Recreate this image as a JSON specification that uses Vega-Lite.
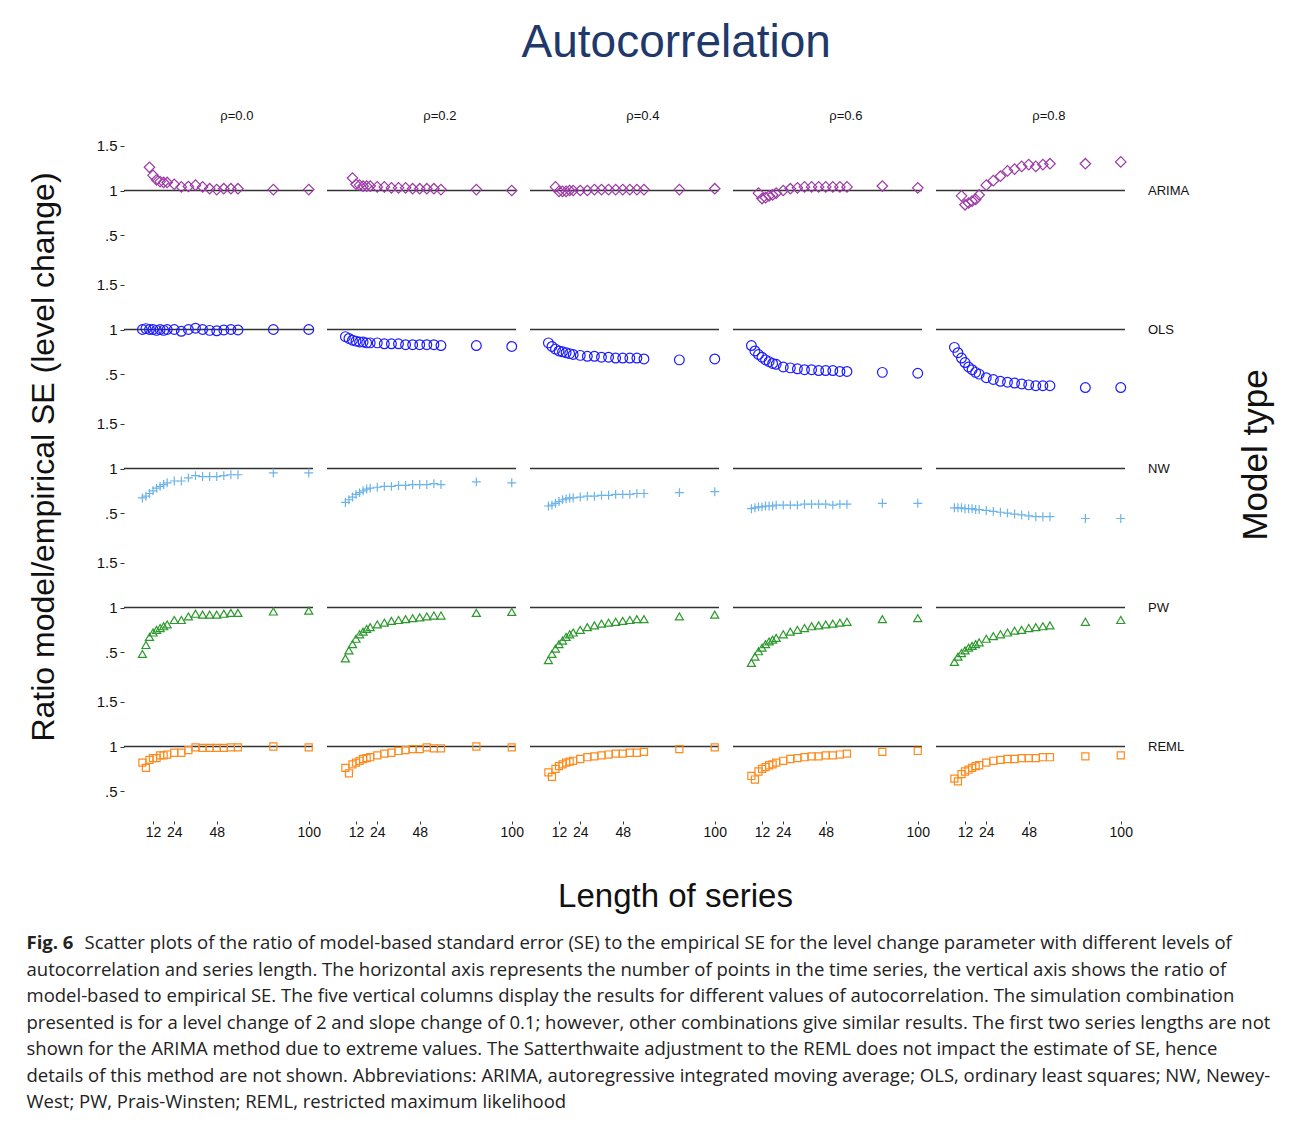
{
  "$schema": "https://vega.github.io/schema/vega-lite/v6.json",
  "background": "white",
  "padding": {"left": 26, "top": 20, "right": 5, "bottom": 5},
  "title": {"text": "Autocorrelation", "font": "Liberation Sans", "fontSize": 46, "fontWeight": "normal", "color": "#20386a", "anchor": "middle", "offset": 43, "dx": 20},
  "config": {"view": {"stroke": null}, "font": "Liberation Sans"},
  "spacing": 42,
  "vconcat": [
    {
      "spacing": 36,
      "hconcat": [
        {
          "data": {"values": [{"t": "Ratio model/empirical SE (level change)"}]},
          "width": 1,
          "height": 658,
          "mark": {"type": "text", "angle": 270, "align": "center", "baseline": "middle", "font": "Liberation Sans", "fontSize": 32, "color": "#111"},
          "encoding": {"text": {"field": "t"}}
        },
        {
          "data": {"values": [
            {"m":"ARIMA","r":"ρ=0.0","n":10,"v":1.26},{"m":"ARIMA","r":"ρ=0.0","n":12,"v":1.17},{"m":"ARIMA","r":"ρ=0.0","n":14,"v":1.12},{"m":"ARIMA","r":"ρ=0.0","n":16,"v":1.10},{"m":"ARIMA","r":"ρ=0.0","n":18,"v":1.09},{"m":"ARIMA","r":"ρ=0.0","n":20,"v":1.09},{"m":"ARIMA","r":"ρ=0.0","n":24,"v":1.07},{"m":"ARIMA","r":"ρ=0.0","n":28,"v":1.04},{"m":"ARIMA","r":"ρ=0.0","n":32,"v":1.045},{"m":"ARIMA","r":"ρ=0.0","n":36,"v":1.06},{"m":"ARIMA","r":"ρ=0.0","n":40,"v":1.04},{"m":"ARIMA","r":"ρ=0.0","n":44,"v":1.02},{"m":"ARIMA","r":"ρ=0.0","n":48,"v":1.01},{"m":"ARIMA","r":"ρ=0.0","n":52,"v":1.02},{"m":"ARIMA","r":"ρ=0.0","n":56,"v":1.02},{"m":"ARIMA","r":"ρ=0.0","n":60,"v":1.02},{"m":"ARIMA","r":"ρ=0.0","n":80,"v":1.01},{"m":"ARIMA","r":"ρ=0.0","n":100,"v":1.01},
            {"m":"ARIMA","r":"ρ=0.2","n":10,"v":1.14},{"m":"ARIMA","r":"ρ=0.2","n":12,"v":1.07},{"m":"ARIMA","r":"ρ=0.2","n":14,"v":1.06},{"m":"ARIMA","r":"ρ=0.2","n":16,"v":1.05},{"m":"ARIMA","r":"ρ=0.2","n":18,"v":1.05},{"m":"ARIMA","r":"ρ=0.2","n":20,"v":1.05},{"m":"ARIMA","r":"ρ=0.2","n":24,"v":1.04},{"m":"ARIMA","r":"ρ=0.2","n":28,"v":1.04},{"m":"ARIMA","r":"ρ=0.2","n":32,"v":1.03},{"m":"ARIMA","r":"ρ=0.2","n":36,"v":1.03},{"m":"ARIMA","r":"ρ=0.2","n":40,"v":1.03},{"m":"ARIMA","r":"ρ=0.2","n":44,"v":1.02},{"m":"ARIMA","r":"ρ=0.2","n":48,"v":1.02},{"m":"ARIMA","r":"ρ=0.2","n":52,"v":1.02},{"m":"ARIMA","r":"ρ=0.2","n":56,"v":1.02},{"m":"ARIMA","r":"ρ=0.2","n":60,"v":1.01},{"m":"ARIMA","r":"ρ=0.2","n":80,"v":1.01},{"m":"ARIMA","r":"ρ=0.2","n":100,"v":1.0},
            {"m":"ARIMA","r":"ρ=0.4","n":10,"v":1.04},{"m":"ARIMA","r":"ρ=0.4","n":12,"v":0.99},{"m":"ARIMA","r":"ρ=0.4","n":14,"v":0.99},{"m":"ARIMA","r":"ρ=0.4","n":16,"v":0.99},{"m":"ARIMA","r":"ρ=0.4","n":18,"v":1.0},{"m":"ARIMA","r":"ρ=0.4","n":20,"v":1.0},{"m":"ARIMA","r":"ρ=0.4","n":24,"v":1.0},{"m":"ARIMA","r":"ρ=0.4","n":28,"v":1.0},{"m":"ARIMA","r":"ρ=0.4","n":32,"v":1.01},{"m":"ARIMA","r":"ρ=0.4","n":36,"v":1.01},{"m":"ARIMA","r":"ρ=0.4","n":40,"v":1.01},{"m":"ARIMA","r":"ρ=0.4","n":44,"v":1.01},{"m":"ARIMA","r":"ρ=0.4","n":48,"v":1.01},{"m":"ARIMA","r":"ρ=0.4","n":52,"v":1.01},{"m":"ARIMA","r":"ρ=0.4","n":56,"v":1.01},{"m":"ARIMA","r":"ρ=0.4","n":60,"v":1.01},{"m":"ARIMA","r":"ρ=0.4","n":80,"v":1.01},{"m":"ARIMA","r":"ρ=0.4","n":100,"v":1.02},
            {"m":"ARIMA","r":"ρ=0.6","n":10,"v":0.97},{"m":"ARIMA","r":"ρ=0.6","n":12,"v":0.91},{"m":"ARIMA","r":"ρ=0.6","n":14,"v":0.92},{"m":"ARIMA","r":"ρ=0.6","n":16,"v":0.94},{"m":"ARIMA","r":"ρ=0.6","n":18,"v":0.95},{"m":"ARIMA","r":"ρ=0.6","n":20,"v":0.97},{"m":"ARIMA","r":"ρ=0.6","n":24,"v":1.0},{"m":"ARIMA","r":"ρ=0.6","n":28,"v":1.02},{"m":"ARIMA","r":"ρ=0.6","n":32,"v":1.03},{"m":"ARIMA","r":"ρ=0.6","n":36,"v":1.04},{"m":"ARIMA","r":"ρ=0.6","n":40,"v":1.04},{"m":"ARIMA","r":"ρ=0.6","n":44,"v":1.04},{"m":"ARIMA","r":"ρ=0.6","n":48,"v":1.04},{"m":"ARIMA","r":"ρ=0.6","n":52,"v":1.04},{"m":"ARIMA","r":"ρ=0.6","n":56,"v":1.04},{"m":"ARIMA","r":"ρ=0.6","n":60,"v":1.04},{"m":"ARIMA","r":"ρ=0.6","n":80,"v":1.05},{"m":"ARIMA","r":"ρ=0.6","n":100,"v":1.03},
            {"m":"ARIMA","r":"ρ=0.8","n":10,"v":0.94},{"m":"ARIMA","r":"ρ=0.8","n":12,"v":0.84},{"m":"ARIMA","r":"ρ=0.8","n":14,"v":0.86},{"m":"ARIMA","r":"ρ=0.8","n":16,"v":0.88},{"m":"ARIMA","r":"ρ=0.8","n":18,"v":0.90},{"m":"ARIMA","r":"ρ=0.8","n":20,"v":0.95},{"m":"ARIMA","r":"ρ=0.8","n":24,"v":1.06},{"m":"ARIMA","r":"ρ=0.8","n":28,"v":1.11},{"m":"ARIMA","r":"ρ=0.8","n":32,"v":1.16},{"m":"ARIMA","r":"ρ=0.8","n":36,"v":1.22},{"m":"ARIMA","r":"ρ=0.8","n":40,"v":1.24},{"m":"ARIMA","r":"ρ=0.8","n":44,"v":1.27},{"m":"ARIMA","r":"ρ=0.8","n":48,"v":1.29},{"m":"ARIMA","r":"ρ=0.8","n":52,"v":1.27},{"m":"ARIMA","r":"ρ=0.8","n":56,"v":1.29},{"m":"ARIMA","r":"ρ=0.8","n":60,"v":1.30},{"m":"ARIMA","r":"ρ=0.8","n":80,"v":1.30},{"m":"ARIMA","r":"ρ=0.8","n":100,"v":1.32},
            {"m":"OLS","r":"ρ=0.0","n":6,"v":1.0},{"m":"OLS","r":"ρ=0.0","n":8,"v":1.01},{"m":"OLS","r":"ρ=0.0","n":10,"v":1.0},{"m":"OLS","r":"ρ=0.0","n":12,"v":1.0},{"m":"OLS","r":"ρ=0.0","n":14,"v":0.99},{"m":"OLS","r":"ρ=0.0","n":16,"v":1.0},{"m":"OLS","r":"ρ=0.0","n":18,"v":0.99},{"m":"OLS","r":"ρ=0.0","n":20,"v":1.0},{"m":"OLS","r":"ρ=0.0","n":24,"v":1.0},{"m":"OLS","r":"ρ=0.0","n":28,"v":0.98},{"m":"OLS","r":"ρ=0.0","n":32,"v":1.0},{"m":"OLS","r":"ρ=0.0","n":36,"v":1.015},{"m":"OLS","r":"ρ=0.0","n":40,"v":1.0},{"m":"OLS","r":"ρ=0.0","n":44,"v":0.99},{"m":"OLS","r":"ρ=0.0","n":48,"v":0.985},{"m":"OLS","r":"ρ=0.0","n":52,"v":0.995},{"m":"OLS","r":"ρ=0.0","n":56,"v":1.0},{"m":"OLS","r":"ρ=0.0","n":60,"v":0.995},{"m":"OLS","r":"ρ=0.0","n":80,"v":1.0},{"m":"OLS","r":"ρ=0.0","n":100,"v":1.0},
            {"m":"OLS","r":"ρ=0.2","n":6,"v":0.92},{"m":"OLS","r":"ρ=0.2","n":8,"v":0.90},{"m":"OLS","r":"ρ=0.2","n":10,"v":0.88},{"m":"OLS","r":"ρ=0.2","n":12,"v":0.87},{"m":"OLS","r":"ρ=0.2","n":14,"v":0.86},{"m":"OLS","r":"ρ=0.2","n":16,"v":0.86},{"m":"OLS","r":"ρ=0.2","n":18,"v":0.85},{"m":"OLS","r":"ρ=0.2","n":20,"v":0.85},{"m":"OLS","r":"ρ=0.2","n":24,"v":0.85},{"m":"OLS","r":"ρ=0.2","n":28,"v":0.84},{"m":"OLS","r":"ρ=0.2","n":32,"v":0.84},{"m":"OLS","r":"ρ=0.2","n":36,"v":0.84},{"m":"OLS","r":"ρ=0.2","n":40,"v":0.83},{"m":"OLS","r":"ρ=0.2","n":44,"v":0.83},{"m":"OLS","r":"ρ=0.2","n":48,"v":0.83},{"m":"OLS","r":"ρ=0.2","n":52,"v":0.83},{"m":"OLS","r":"ρ=0.2","n":56,"v":0.83},{"m":"OLS","r":"ρ=0.2","n":60,"v":0.82},{"m":"OLS","r":"ρ=0.2","n":80,"v":0.82},{"m":"OLS","r":"ρ=0.2","n":100,"v":0.81},
            {"m":"OLS","r":"ρ=0.4","n":6,"v":0.85},{"m":"OLS","r":"ρ=0.4","n":8,"v":0.81},{"m":"OLS","r":"ρ=0.4","n":10,"v":0.78},{"m":"OLS","r":"ρ=0.4","n":12,"v":0.76},{"m":"OLS","r":"ρ=0.4","n":14,"v":0.75},{"m":"OLS","r":"ρ=0.4","n":16,"v":0.74},{"m":"OLS","r":"ρ=0.4","n":18,"v":0.73},{"m":"OLS","r":"ρ=0.4","n":20,"v":0.72},{"m":"OLS","r":"ρ=0.4","n":24,"v":0.71},{"m":"OLS","r":"ρ=0.4","n":28,"v":0.70},{"m":"OLS","r":"ρ=0.4","n":32,"v":0.70},{"m":"OLS","r":"ρ=0.4","n":36,"v":0.69},{"m":"OLS","r":"ρ=0.4","n":40,"v":0.69},{"m":"OLS","r":"ρ=0.4","n":44,"v":0.68},{"m":"OLS","r":"ρ=0.4","n":48,"v":0.68},{"m":"OLS","r":"ρ=0.4","n":52,"v":0.68},{"m":"OLS","r":"ρ=0.4","n":56,"v":0.68},{"m":"OLS","r":"ρ=0.4","n":60,"v":0.67},{"m":"OLS","r":"ρ=0.4","n":80,"v":0.66},{"m":"OLS","r":"ρ=0.4","n":100,"v":0.67},
            {"m":"OLS","r":"ρ=0.6","n":6,"v":0.82},{"m":"OLS","r":"ρ=0.6","n":8,"v":0.76},{"m":"OLS","r":"ρ=0.6","n":10,"v":0.72},{"m":"OLS","r":"ρ=0.6","n":12,"v":0.69},{"m":"OLS","r":"ρ=0.6","n":14,"v":0.66},{"m":"OLS","r":"ρ=0.6","n":16,"v":0.64},{"m":"OLS","r":"ρ=0.6","n":18,"v":0.62},{"m":"OLS","r":"ρ=0.6","n":20,"v":0.61},{"m":"OLS","r":"ρ=0.6","n":24,"v":0.58},{"m":"OLS","r":"ρ=0.6","n":28,"v":0.57},{"m":"OLS","r":"ρ=0.6","n":32,"v":0.56},{"m":"OLS","r":"ρ=0.6","n":36,"v":0.55},{"m":"OLS","r":"ρ=0.6","n":40,"v":0.55},{"m":"OLS","r":"ρ=0.6","n":44,"v":0.54},{"m":"OLS","r":"ρ=0.6","n":48,"v":0.54},{"m":"OLS","r":"ρ=0.6","n":52,"v":0.54},{"m":"OLS","r":"ρ=0.6","n":56,"v":0.53},{"m":"OLS","r":"ρ=0.6","n":60,"v":0.53},{"m":"OLS","r":"ρ=0.6","n":80,"v":0.52},{"m":"OLS","r":"ρ=0.6","n":100,"v":0.51},
            {"m":"OLS","r":"ρ=0.8","n":6,"v":0.80},{"m":"OLS","r":"ρ=0.8","n":8,"v":0.74},{"m":"OLS","r":"ρ=0.8","n":10,"v":0.68},{"m":"OLS","r":"ρ=0.8","n":12,"v":0.63},{"m":"OLS","r":"ρ=0.8","n":14,"v":0.58},{"m":"OLS","r":"ρ=0.8","n":16,"v":0.55},{"m":"OLS","r":"ρ=0.8","n":18,"v":0.52},{"m":"OLS","r":"ρ=0.8","n":20,"v":0.50},{"m":"OLS","r":"ρ=0.8","n":24,"v":0.46},{"m":"OLS","r":"ρ=0.8","n":28,"v":0.44},{"m":"OLS","r":"ρ=0.8","n":32,"v":0.42},{"m":"OLS","r":"ρ=0.8","n":36,"v":0.41},{"m":"OLS","r":"ρ=0.8","n":40,"v":0.40},{"m":"OLS","r":"ρ=0.8","n":44,"v":0.39},{"m":"OLS","r":"ρ=0.8","n":48,"v":0.38},{"m":"OLS","r":"ρ=0.8","n":52,"v":0.37},{"m":"OLS","r":"ρ=0.8","n":56,"v":0.37},{"m":"OLS","r":"ρ=0.8","n":60,"v":0.37},{"m":"OLS","r":"ρ=0.8","n":80,"v":0.35},{"m":"OLS","r":"ρ=0.8","n":100,"v":0.35},
            {"m":"NW","r":"ρ=0.0","n":6,"v":0.67},{"m":"NW","r":"ρ=0.0","n":8,"v":0.69},{"m":"NW","r":"ρ=0.0","n":10,"v":0.72},{"m":"NW","r":"ρ=0.0","n":12,"v":0.75},{"m":"NW","r":"ρ=0.0","n":14,"v":0.78},{"m":"NW","r":"ρ=0.0","n":16,"v":0.80},{"m":"NW","r":"ρ=0.0","n":18,"v":0.82},{"m":"NW","r":"ρ=0.0","n":20,"v":0.84},{"m":"NW","r":"ρ=0.0","n":24,"v":0.86},{"m":"NW","r":"ρ=0.0","n":28,"v":0.86},{"m":"NW","r":"ρ=0.0","n":32,"v":0.895},{"m":"NW","r":"ρ=0.0","n":36,"v":0.92},{"m":"NW","r":"ρ=0.0","n":40,"v":0.91},{"m":"NW","r":"ρ=0.0","n":44,"v":0.91},{"m":"NW","r":"ρ=0.0","n":48,"v":0.91},{"m":"NW","r":"ρ=0.0","n":52,"v":0.92},{"m":"NW","r":"ρ=0.0","n":56,"v":0.93},{"m":"NW","r":"ρ=0.0","n":60,"v":0.93},{"m":"NW","r":"ρ=0.0","n":80,"v":0.95},{"m":"NW","r":"ρ=0.0","n":100,"v":0.95},
            {"m":"NW","r":"ρ=0.2","n":6,"v":0.62},{"m":"NW","r":"ρ=0.2","n":8,"v":0.65},{"m":"NW","r":"ρ=0.2","n":10,"v":0.68},{"m":"NW","r":"ρ=0.2","n":12,"v":0.71},{"m":"NW","r":"ρ=0.2","n":14,"v":0.73},{"m":"NW","r":"ρ=0.2","n":16,"v":0.75},{"m":"NW","r":"ρ=0.2","n":18,"v":0.77},{"m":"NW","r":"ρ=0.2","n":20,"v":0.78},{"m":"NW","r":"ρ=0.2","n":24,"v":0.79},{"m":"NW","r":"ρ=0.2","n":28,"v":0.80},{"m":"NW","r":"ρ=0.2","n":32,"v":0.80},{"m":"NW","r":"ρ=0.2","n":36,"v":0.81},{"m":"NW","r":"ρ=0.2","n":40,"v":0.81},{"m":"NW","r":"ρ=0.2","n":44,"v":0.82},{"m":"NW","r":"ρ=0.2","n":48,"v":0.82},{"m":"NW","r":"ρ=0.2","n":52,"v":0.82},{"m":"NW","r":"ρ=0.2","n":56,"v":0.83},{"m":"NW","r":"ρ=0.2","n":60,"v":0.82},{"m":"NW","r":"ρ=0.2","n":80,"v":0.85},{"m":"NW","r":"ρ=0.2","n":100,"v":0.84},
            {"m":"NW","r":"ρ=0.4","n":6,"v":0.58},{"m":"NW","r":"ρ=0.4","n":8,"v":0.59},{"m":"NW","r":"ρ=0.4","n":10,"v":0.61},{"m":"NW","r":"ρ=0.4","n":12,"v":0.63},{"m":"NW","r":"ρ=0.4","n":14,"v":0.65},{"m":"NW","r":"ρ=0.4","n":16,"v":0.66},{"m":"NW","r":"ρ=0.4","n":18,"v":0.67},{"m":"NW","r":"ρ=0.4","n":20,"v":0.67},{"m":"NW","r":"ρ=0.4","n":24,"v":0.68},{"m":"NW","r":"ρ=0.4","n":28,"v":0.69},{"m":"NW","r":"ρ=0.4","n":32,"v":0.69},{"m":"NW","r":"ρ=0.4","n":36,"v":0.70},{"m":"NW","r":"ρ=0.4","n":40,"v":0.70},{"m":"NW","r":"ρ=0.4","n":44,"v":0.71},{"m":"NW","r":"ρ=0.4","n":48,"v":0.71},{"m":"NW","r":"ρ=0.4","n":52,"v":0.71},{"m":"NW","r":"ρ=0.4","n":56,"v":0.72},{"m":"NW","r":"ρ=0.4","n":60,"v":0.72},{"m":"NW","r":"ρ=0.4","n":80,"v":0.73},{"m":"NW","r":"ρ=0.4","n":100,"v":0.74},
            {"m":"NW","r":"ρ=0.6","n":6,"v":0.55},{"m":"NW","r":"ρ=0.6","n":8,"v":0.56},{"m":"NW","r":"ρ=0.6","n":10,"v":0.57},{"m":"NW","r":"ρ=0.6","n":12,"v":0.57},{"m":"NW","r":"ρ=0.6","n":14,"v":0.58},{"m":"NW","r":"ρ=0.6","n":16,"v":0.58},{"m":"NW","r":"ρ=0.6","n":18,"v":0.58},{"m":"NW","r":"ρ=0.6","n":20,"v":0.59},{"m":"NW","r":"ρ=0.6","n":24,"v":0.59},{"m":"NW","r":"ρ=0.6","n":28,"v":0.59},{"m":"NW","r":"ρ=0.6","n":32,"v":0.59},{"m":"NW","r":"ρ=0.6","n":36,"v":0.60},{"m":"NW","r":"ρ=0.6","n":40,"v":0.60},{"m":"NW","r":"ρ=0.6","n":44,"v":0.60},{"m":"NW","r":"ρ=0.6","n":48,"v":0.60},{"m":"NW","r":"ρ=0.6","n":52,"v":0.59},{"m":"NW","r":"ρ=0.6","n":56,"v":0.60},{"m":"NW","r":"ρ=0.6","n":60,"v":0.60},{"m":"NW","r":"ρ=0.6","n":80,"v":0.61},{"m":"NW","r":"ρ=0.6","n":100,"v":0.61},
            {"m":"NW","r":"ρ=0.8","n":6,"v":0.56},{"m":"NW","r":"ρ=0.8","n":8,"v":0.56},{"m":"NW","r":"ρ=0.8","n":10,"v":0.56},{"m":"NW","r":"ρ=0.8","n":12,"v":0.55},{"m":"NW","r":"ρ=0.8","n":14,"v":0.55},{"m":"NW","r":"ρ=0.8","n":16,"v":0.55},{"m":"NW","r":"ρ=0.8","n":18,"v":0.54},{"m":"NW","r":"ρ=0.8","n":20,"v":0.54},{"m":"NW","r":"ρ=0.8","n":24,"v":0.53},{"m":"NW","r":"ρ=0.8","n":28,"v":0.52},{"m":"NW","r":"ρ=0.8","n":32,"v":0.51},{"m":"NW","r":"ρ=0.8","n":36,"v":0.50},{"m":"NW","r":"ρ=0.8","n":40,"v":0.49},{"m":"NW","r":"ρ=0.8","n":44,"v":0.48},{"m":"NW","r":"ρ=0.8","n":48,"v":0.47},{"m":"NW","r":"ρ=0.8","n":52,"v":0.46},{"m":"NW","r":"ρ=0.8","n":56,"v":0.46},{"m":"NW","r":"ρ=0.8","n":60,"v":0.46},{"m":"NW","r":"ρ=0.8","n":80,"v":0.44},{"m":"NW","r":"ρ=0.8","n":100,"v":0.44},
            {"m":"PW","r":"ρ=0.0","n":6,"v":0.48},{"m":"PW","r":"ρ=0.0","n":8,"v":0.58},{"m":"PW","r":"ρ=0.0","n":10,"v":0.67},{"m":"PW","r":"ρ=0.0","n":12,"v":0.72},{"m":"PW","r":"ρ=0.0","n":14,"v":0.75},{"m":"PW","r":"ρ=0.0","n":16,"v":0.77},{"m":"PW","r":"ρ=0.0","n":18,"v":0.79},{"m":"PW","r":"ρ=0.0","n":20,"v":0.81},{"m":"PW","r":"ρ=0.0","n":24,"v":0.86},{"m":"PW","r":"ρ=0.0","n":28,"v":0.86},{"m":"PW","r":"ρ=0.0","n":32,"v":0.90},{"m":"PW","r":"ρ=0.0","n":36,"v":0.93},{"m":"PW","r":"ρ=0.0","n":40,"v":0.92},{"m":"PW","r":"ρ=0.0","n":44,"v":0.92},{"m":"PW","r":"ρ=0.0","n":48,"v":0.92},{"m":"PW","r":"ρ=0.0","n":52,"v":0.93},{"m":"PW","r":"ρ=0.0","n":56,"v":0.94},{"m":"PW","r":"ρ=0.0","n":60,"v":0.94},{"m":"PW","r":"ρ=0.0","n":80,"v":0.955},{"m":"PW","r":"ρ=0.0","n":100,"v":0.965},
            {"m":"PW","r":"ρ=0.2","n":6,"v":0.43},{"m":"PW","r":"ρ=0.2","n":8,"v":0.52},{"m":"PW","r":"ρ=0.2","n":10,"v":0.59},{"m":"PW","r":"ρ=0.2","n":12,"v":0.65},{"m":"PW","r":"ρ=0.2","n":14,"v":0.70},{"m":"PW","r":"ρ=0.2","n":16,"v":0.73},{"m":"PW","r":"ρ=0.2","n":18,"v":0.76},{"m":"PW","r":"ρ=0.2","n":20,"v":0.78},{"m":"PW","r":"ρ=0.2","n":24,"v":0.81},{"m":"PW","r":"ρ=0.2","n":28,"v":0.83},{"m":"PW","r":"ρ=0.2","n":32,"v":0.85},{"m":"PW","r":"ρ=0.2","n":36,"v":0.86},{"m":"PW","r":"ρ=0.2","n":40,"v":0.87},{"m":"PW","r":"ρ=0.2","n":44,"v":0.88},{"m":"PW","r":"ρ=0.2","n":48,"v":0.89},{"m":"PW","r":"ρ=0.2","n":52,"v":0.90},{"m":"PW","r":"ρ=0.2","n":56,"v":0.91},{"m":"PW","r":"ρ=0.2","n":60,"v":0.91},{"m":"PW","r":"ρ=0.2","n":80,"v":0.94},{"m":"PW","r":"ρ=0.2","n":100,"v":0.95},
            {"m":"PW","r":"ρ=0.4","n":6,"v":0.41},{"m":"PW","r":"ρ=0.4","n":8,"v":0.48},{"m":"PW","r":"ρ=0.4","n":10,"v":0.54},{"m":"PW","r":"ρ=0.4","n":12,"v":0.59},{"m":"PW","r":"ρ=0.4","n":14,"v":0.63},{"m":"PW","r":"ρ=0.4","n":16,"v":0.67},{"m":"PW","r":"ρ=0.4","n":18,"v":0.70},{"m":"PW","r":"ρ=0.4","n":20,"v":0.72},{"m":"PW","r":"ρ=0.4","n":24,"v":0.75},{"m":"PW","r":"ρ=0.4","n":28,"v":0.78},{"m":"PW","r":"ρ=0.4","n":32,"v":0.80},{"m":"PW","r":"ρ=0.4","n":36,"v":0.82},{"m":"PW","r":"ρ=0.4","n":40,"v":0.83},{"m":"PW","r":"ρ=0.4","n":44,"v":0.84},{"m":"PW","r":"ρ=0.4","n":48,"v":0.85},{"m":"PW","r":"ρ=0.4","n":52,"v":0.86},{"m":"PW","r":"ρ=0.4","n":56,"v":0.87},{"m":"PW","r":"ρ=0.4","n":60,"v":0.87},{"m":"PW","r":"ρ=0.4","n":80,"v":0.90},{"m":"PW","r":"ρ=0.4","n":100,"v":0.92},
            {"m":"PW","r":"ρ=0.6","n":6,"v":0.38},{"m":"PW","r":"ρ=0.6","n":8,"v":0.45},{"m":"PW","r":"ρ=0.6","n":10,"v":0.51},{"m":"PW","r":"ρ=0.6","n":12,"v":0.55},{"m":"PW","r":"ρ=0.6","n":14,"v":0.59},{"m":"PW","r":"ρ=0.6","n":16,"v":0.62},{"m":"PW","r":"ρ=0.6","n":18,"v":0.64},{"m":"PW","r":"ρ=0.6","n":20,"v":0.66},{"m":"PW","r":"ρ=0.6","n":24,"v":0.70},{"m":"PW","r":"ρ=0.6","n":28,"v":0.73},{"m":"PW","r":"ρ=0.6","n":32,"v":0.75},{"m":"PW","r":"ρ=0.6","n":36,"v":0.77},{"m":"PW","r":"ρ=0.6","n":40,"v":0.79},{"m":"PW","r":"ρ=0.6","n":44,"v":0.80},{"m":"PW","r":"ρ=0.6","n":48,"v":0.81},{"m":"PW","r":"ρ=0.6","n":52,"v":0.82},{"m":"PW","r":"ρ=0.6","n":56,"v":0.83},{"m":"PW","r":"ρ=0.6","n":60,"v":0.84},{"m":"PW","r":"ρ=0.6","n":80,"v":0.87},{"m":"PW","r":"ρ=0.6","n":100,"v":0.88},
            {"m":"PW","r":"ρ=0.8","n":6,"v":0.39},{"m":"PW","r":"ρ=0.8","n":8,"v":0.45},{"m":"PW","r":"ρ=0.8","n":10,"v":0.49},{"m":"PW","r":"ρ=0.8","n":12,"v":0.52},{"m":"PW","r":"ρ=0.8","n":14,"v":0.55},{"m":"PW","r":"ρ=0.8","n":16,"v":0.57},{"m":"PW","r":"ρ=0.8","n":18,"v":0.59},{"m":"PW","r":"ρ=0.8","n":20,"v":0.61},{"m":"PW","r":"ρ=0.8","n":24,"v":0.65},{"m":"PW","r":"ρ=0.8","n":28,"v":0.68},{"m":"PW","r":"ρ=0.8","n":32,"v":0.70},{"m":"PW","r":"ρ=0.8","n":36,"v":0.72},{"m":"PW","r":"ρ=0.8","n":40,"v":0.74},{"m":"PW","r":"ρ=0.8","n":44,"v":0.75},{"m":"PW","r":"ρ=0.8","n":48,"v":0.77},{"m":"PW","r":"ρ=0.8","n":52,"v":0.78},{"m":"PW","r":"ρ=0.8","n":56,"v":0.79},{"m":"PW","r":"ρ=0.8","n":60,"v":0.80},{"m":"PW","r":"ρ=0.8","n":80,"v":0.84},{"m":"PW","r":"ρ=0.8","n":100,"v":0.86},
            {"m":"REML","r":"ρ=0.0","n":6,"v":0.82},{"m":"REML","r":"ρ=0.0","n":8,"v":0.76},{"m":"REML","r":"ρ=0.0","n":10,"v":0.85},{"m":"REML","r":"ρ=0.0","n":12,"v":0.87},{"m":"REML","r":"ρ=0.0","n":14,"v":0.87},{"m":"REML","r":"ρ=0.0","n":16,"v":0.90},{"m":"REML","r":"ρ=0.0","n":18,"v":0.90},{"m":"REML","r":"ρ=0.0","n":20,"v":0.91},{"m":"REML","r":"ρ=0.0","n":24,"v":0.93},{"m":"REML","r":"ρ=0.0","n":28,"v":0.93},{"m":"REML","r":"ρ=0.0","n":32,"v":0.96},{"m":"REML","r":"ρ=0.0","n":36,"v":0.99},{"m":"REML","r":"ρ=0.0","n":40,"v":0.985},{"m":"REML","r":"ρ=0.0","n":44,"v":0.985},{"m":"REML","r":"ρ=0.0","n":48,"v":0.985},{"m":"REML","r":"ρ=0.0","n":52,"v":0.985},{"m":"REML","r":"ρ=0.0","n":56,"v":0.99},{"m":"REML","r":"ρ=0.0","n":60,"v":0.99},{"m":"REML","r":"ρ=0.0","n":80,"v":1.0},{"m":"REML","r":"ρ=0.0","n":100,"v":0.99},
            {"m":"REML","r":"ρ=0.2","n":6,"v":0.76},{"m":"REML","r":"ρ=0.2","n":8,"v":0.70},{"m":"REML","r":"ρ=0.2","n":10,"v":0.80},{"m":"REML","r":"ρ=0.2","n":12,"v":0.82},{"m":"REML","r":"ρ=0.2","n":14,"v":0.84},{"m":"REML","r":"ρ=0.2","n":16,"v":0.86},{"m":"REML","r":"ρ=0.2","n":18,"v":0.87},{"m":"REML","r":"ρ=0.2","n":20,"v":0.88},{"m":"REML","r":"ρ=0.2","n":24,"v":0.90},{"m":"REML","r":"ρ=0.2","n":28,"v":0.92},{"m":"REML","r":"ρ=0.2","n":32,"v":0.93},{"m":"REML","r":"ρ=0.2","n":36,"v":0.95},{"m":"REML","r":"ρ=0.2","n":40,"v":0.96},{"m":"REML","r":"ρ=0.2","n":44,"v":0.97},{"m":"REML","r":"ρ=0.2","n":48,"v":0.97},{"m":"REML","r":"ρ=0.2","n":52,"v":0.99},{"m":"REML","r":"ρ=0.2","n":56,"v":0.98},{"m":"REML","r":"ρ=0.2","n":60,"v":0.98},{"m":"REML","r":"ρ=0.2","n":80,"v":1.0},{"m":"REML","r":"ρ=0.2","n":100,"v":0.99},
            {"m":"REML","r":"ρ=0.4","n":6,"v":0.71},{"m":"REML","r":"ρ=0.4","n":8,"v":0.66},{"m":"REML","r":"ρ=0.4","n":10,"v":0.75},{"m":"REML","r":"ρ=0.4","n":12,"v":0.78},{"m":"REML","r":"ρ=0.4","n":14,"v":0.80},{"m":"REML","r":"ρ=0.4","n":16,"v":0.82},{"m":"REML","r":"ρ=0.4","n":18,"v":0.83},{"m":"REML","r":"ρ=0.4","n":20,"v":0.84},{"m":"REML","r":"ρ=0.4","n":24,"v":0.86},{"m":"REML","r":"ρ=0.4","n":28,"v":0.88},{"m":"REML","r":"ρ=0.4","n":32,"v":0.89},{"m":"REML","r":"ρ=0.4","n":36,"v":0.90},{"m":"REML","r":"ρ=0.4","n":40,"v":0.91},{"m":"REML","r":"ρ=0.4","n":44,"v":0.92},{"m":"REML","r":"ρ=0.4","n":48,"v":0.92},{"m":"REML","r":"ρ=0.4","n":52,"v":0.93},{"m":"REML","r":"ρ=0.4","n":56,"v":0.93},{"m":"REML","r":"ρ=0.4","n":60,"v":0.94},{"m":"REML","r":"ρ=0.4","n":80,"v":0.97},{"m":"REML","r":"ρ=0.4","n":100,"v":0.99},
            {"m":"REML","r":"ρ=0.6","n":6,"v":0.67},{"m":"REML","r":"ρ=0.6","n":8,"v":0.63},{"m":"REML","r":"ρ=0.6","n":10,"v":0.72},{"m":"REML","r":"ρ=0.6","n":12,"v":0.75},{"m":"REML","r":"ρ=0.6","n":14,"v":0.77},{"m":"REML","r":"ρ=0.6","n":16,"v":0.79},{"m":"REML","r":"ρ=0.6","n":18,"v":0.80},{"m":"REML","r":"ρ=0.6","n":20,"v":0.82},{"m":"REML","r":"ρ=0.6","n":24,"v":0.84},{"m":"REML","r":"ρ=0.6","n":28,"v":0.86},{"m":"REML","r":"ρ=0.6","n":32,"v":0.87},{"m":"REML","r":"ρ=0.6","n":36,"v":0.88},{"m":"REML","r":"ρ=0.6","n":40,"v":0.89},{"m":"REML","r":"ρ=0.6","n":44,"v":0.89},{"m":"REML","r":"ρ=0.6","n":48,"v":0.90},{"m":"REML","r":"ρ=0.6","n":52,"v":0.90},{"m":"REML","r":"ρ=0.6","n":56,"v":0.91},{"m":"REML","r":"ρ=0.6","n":60,"v":0.92},{"m":"REML","r":"ρ=0.6","n":80,"v":0.94},{"m":"REML","r":"ρ=0.6","n":100,"v":0.95},
            {"m":"REML","r":"ρ=0.8","n":6,"v":0.64},{"m":"REML","r":"ρ=0.8","n":8,"v":0.61},{"m":"REML","r":"ρ=0.8","n":10,"v":0.69},{"m":"REML","r":"ρ=0.8","n":12,"v":0.72},{"m":"REML","r":"ρ=0.8","n":14,"v":0.74},{"m":"REML","r":"ρ=0.8","n":16,"v":0.76},{"m":"REML","r":"ρ=0.8","n":18,"v":0.78},{"m":"REML","r":"ρ=0.8","n":20,"v":0.79},{"m":"REML","r":"ρ=0.8","n":24,"v":0.82},{"m":"REML","r":"ρ=0.8","n":28,"v":0.84},{"m":"REML","r":"ρ=0.8","n":32,"v":0.85},{"m":"REML","r":"ρ=0.8","n":36,"v":0.86},{"m":"REML","r":"ρ=0.8","n":40,"v":0.86},{"m":"REML","r":"ρ=0.8","n":44,"v":0.87},{"m":"REML","r":"ρ=0.8","n":48,"v":0.87},{"m":"REML","r":"ρ=0.8","n":52,"v":0.87},{"m":"REML","r":"ρ=0.8","n":56,"v":0.88},{"m":"REML","r":"ρ=0.8","n":60,"v":0.88},{"m":"REML","r":"ρ=0.8","n":80,"v":0.89},{"m":"REML","r":"ρ=0.8","n":100,"v":0.90}
          ]},
          "facet": {
            "row": {"field": "m", "type": "nominal", "sort": ["ARIMA", "OLS", "NW", "PW", "REML"],
              "header": {"title": null, "labels": false}},
            "column": {"field": "r", "type": "nominal", "sort": ["ρ=0.0", "ρ=0.2", "ρ=0.4", "ρ=0.6", "ρ=0.8"],
              "header": {"title": null, "labels": false}}
          },
          "bounds": "flush",
          "spacing": {"row": 14, "column": 14},
          "spec": {
            "width": 189,
            "height": 125,
            "layer": [
              {
                "transform": [{"filter": "datum.n == 100"}],
                "mark": {"type": "rule", "color": "#333333", "strokeWidth": 1.5},
                "encoding": {"y": {"datum": 1}}
              },
              {
                "mark": {"type": "point", "filled": false, "strokeWidth": 1.2, "opacity": 1},
                "encoding": {
                  "x": {"field": "n", "type": "quantitative",
                    "scale": {"domain": [-4.4, 102.4], "nice": false, "zero": false},
                    "axis": {"values": [12, 24, 48, 100], "title": null, "grid": false, "domain": false, "offset": 12, "tickSize": 3, "tickColor": "#333", "labelPadding": 1, "labelFont": "Liberation Sans", "labelFontSize": 14, "labelColor": "#111"}},
                  "y": {"field": "v", "type": "quantitative",
                    "scale": {"domain": [0.3, 1.7], "nice": false, "zero": false},
                    "axis": {"values": [0.5, 1, 1.5], "labelExpr": "datum.value == 1 ? '1' : (datum.value == 1.5 ? '1.5' : '.5')", "title": null, "grid": false, "domain": false, "tickSize": 4, "tickColor": "#333", "labelPadding": 3, "labelFont": "Liberation Sans", "labelFontSize": 15, "labelColor": "#111"}},
                  "color": {"field": "m", "type": "nominal", "legend": null,
                    "scale": {"domain": ["ARIMA", "OLS", "NW", "PW", "REML"], "range": ["#9c3aa6", "#1c1cff", "#6cb4ea", "#2c992c", "#ff8a1c"]}},
                  "shape": {"field": "m", "type": "nominal", "legend": null,
                    "scale": {"domain": ["ARIMA", "OLS", "NW", "PW", "REML"], "range": ["diamond", "circle", "M-1,0H1M0,-1V1", "triangle-up", "square"]}},
                  "size": {"field": "m", "type": "nominal", "legend": null,
                    "scale": {"domain": ["ARIMA", "OLS", "NW", "PW", "REML"], "range": [110, 50, 90, 90, 75]}}
                }
              },
              {
                "transform": [{"filter": "datum.n == 100 && datum.r == 'ρ=0.8'"}],
                "mark": {"type": "text", "align": "left", "baseline": "middle", "dx": 23, "font": "Liberation Sans", "fontSize": 13, "color": "#111"},
                "encoding": {"x": {"datum": 102.4}, "y": {"datum": 1}, "text": {"field": "m"}}
              },
              {
                "transform": [{"filter": "datum.n == 100 && datum.m == 'ARIMA'"}],
                "mark": {"type": "text", "align": "center", "baseline": "middle", "dy": -12, "font": "Liberation Sans", "fontSize": 13, "color": "#111"},
                "encoding": {"x": {"datum": 59.4}, "y": {"datum": 1.7}, "text": {"field": "r"}}
              }
            ]
          }
        },
        {
          "data": {"values": [{"t": "Model type"}]},
          "width": 60,
          "height": 654,
          "mark": {"type": "text", "angle": 270, "align": "center", "baseline": "middle", "font": "Liberation Sans", "fontSize": 35, "color": "#111"},
          "encoding": {"text": {"field": "t"}}
        }
      ]
    },
    {
      "title": {"text": "Length of series", "font": "Liberation Sans", "fontSize": 33, "fontWeight": "normal", "color": "#111", "anchor": "middle", "dx": 632, "offset": 16},
      "data": {"values": [
        {"ln": 1, "p": "b", "t": "Fig. 6"},
        {"ln": 1, "p": "r", "t": "Scatter plots of the ratio of model-based standard error (SE) to the empirical SE for the level change parameter with different levels of"},
        {"ln": 2, "p": "r", "t": "autocorrelation and series length. The horizontal axis represents the number of points in the time series, the vertical axis shows the ratio of"},
        {"ln": 3, "p": "r", "t": "model-based to empirical SE. The five vertical columns display the results for different values of autocorrelation. The simulation combination"},
        {"ln": 4, "p": "r", "t": "presented is for a level change of 2 and slope change of 0.1; however, other combinations give similar results. The first two series lengths are not"},
        {"ln": 5, "p": "r", "t": "shown for the ARIMA method due to extreme values. The Satterthwaite adjustment to the REML does not impact the estimate of SE, hence"},
        {"ln": 6, "p": "r", "t": "details of this method are not shown. Abbreviations: ARIMA, autoregressive integrated moving average; OLS, ordinary least squares; NW, Newey-"},
        {"ln": 7, "p": "r", "t": "West; PW, Prais-Winsten; REML, restricted maximum likelihood"}
      ]},
      "width": 1,
      "height": {"step": 26.5},
      "encoding": {
        "y": {"field": "ln", "type": "ordinal", "axis": null},
        "text": {"field": "t"}
      },
      "layer": [
        {"transform": [{"filter": "datum.p == 'b'"}],
         "mark": {"type": "text", "align": "left", "baseline": "middle", "font": "Open Sans", "fontSize": 18.5, "fontWeight": "bold", "color": "#222", "dx": -17}},
        {"transform": [{"filter": "datum.p == 'r' && datum.ln == 1"}],
         "mark": {"type": "text", "align": "left", "baseline": "middle", "font": "Open Sans", "fontSize": 18.5, "color": "#222", "dx": 41}},
        {"transform": [{"filter": "datum.ln > 1"}],
         "mark": {"type": "text", "align": "left", "baseline": "middle", "font": "Open Sans", "fontSize": 18.5, "color": "#222", "dx": -17}}
      ]
    }
  ]
}
